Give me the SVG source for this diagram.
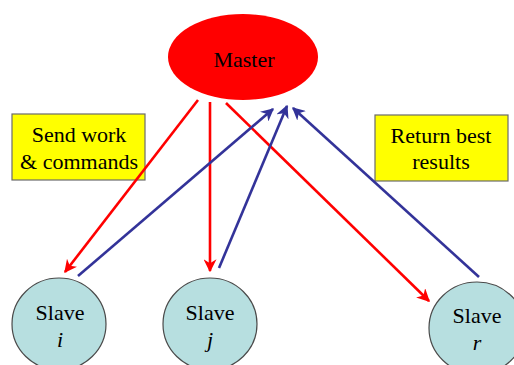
<svg xmlns="http://www.w3.org/2000/svg" width="514" height="365" viewBox="0 0 514 365">
  <style>
    .lbl { font-family: "Liberation Serif", "Times New Roman", serif; font-size: 22px; fill: #000; text-anchor: middle; }
    .it { font-style: italic; }
    .note { fill: #ffff00; stroke: #6b6b6b; stroke-width: 1.2; }
    .slave { fill: #b7dfe0; stroke: #4a4a4a; stroke-width: 1.2; }
    .send { stroke: #ff0000; stroke-width: 2.6; fill: none; marker-end: url(#redHead); }
    .back { stroke: #333399; stroke-width: 2.6; fill: none; marker-end: url(#blueHead); }
  </style>
  <defs>
    <marker id="redHead" viewBox="0 0 10 10" refX="9" refY="5" markerWidth="5" markerHeight="5" orient="auto" markerUnits="strokeWidth">
      <path d="M0,0 L10,5 L0,10 L3,5 z" fill="#ff0000"/>
    </marker>
    <marker id="blueHead" viewBox="0 0 10 10" refX="9" refY="5" markerWidth="5" markerHeight="5" orient="auto" markerUnits="strokeWidth">
      <path d="M0,0 L10,5 L0,10 L3,5 z" fill="#333399"/>
    </marker>
  </defs>

  <g id="master">
    <ellipse cx="243" cy="57" rx="75" ry="43" fill="#ff0000"/>
    <text class="lbl" x="244" y="67">Master</text>
  </g>

  <g id="send-note">
    <rect class="note" x="12" y="114" width="133" height="66"/>
    <text class="lbl" x="79" y="142">Send work</text>
    <text class="lbl" x="79" y="169">&amp; commands</text>
  </g>

  <g id="return-note">
    <rect class="note" x="375" y="115" width="133" height="66"/>
    <text class="lbl" x="441" y="143">Return best</text>
    <text class="lbl" x="441" y="169">results</text>
  </g>

  <g id="slave-i">
    <ellipse class="slave" cx="59" cy="324" rx="47" ry="46"/>
    <text class="lbl" x="60" y="320">Slave</text>
    <text class="lbl it" x="60" y="347">i</text>
  </g>

  <g id="slave-j">
    <ellipse class="slave" cx="210" cy="324" rx="47" ry="46"/>
    <text class="lbl" x="210" y="320">Slave</text>
    <text class="lbl it" x="210" y="347">j</text>
  </g>

  <g id="slave-r">
    <ellipse class="slave" cx="477" cy="328" rx="48" ry="46"/>
    <text class="lbl" x="477" y="323">Slave</text>
    <text class="lbl it" x="477" y="350">r</text>
  </g>

  <g id="connectors">
    <line class="send" x1="198" y1="100" x2="65" y2="272"/>
    <line class="send" x1="210" y1="102" x2="210" y2="271"/>
    <line class="send" x1="226" y1="103" x2="429" y2="301"/>
    <line class="back" x1="78" y1="276" x2="273" y2="109"/>
    <line class="back" x1="219" y1="268" x2="287" y2="106"/>
    <line class="back" x1="479" y1="277" x2="293" y2="108"/>
  </g>
</svg>
